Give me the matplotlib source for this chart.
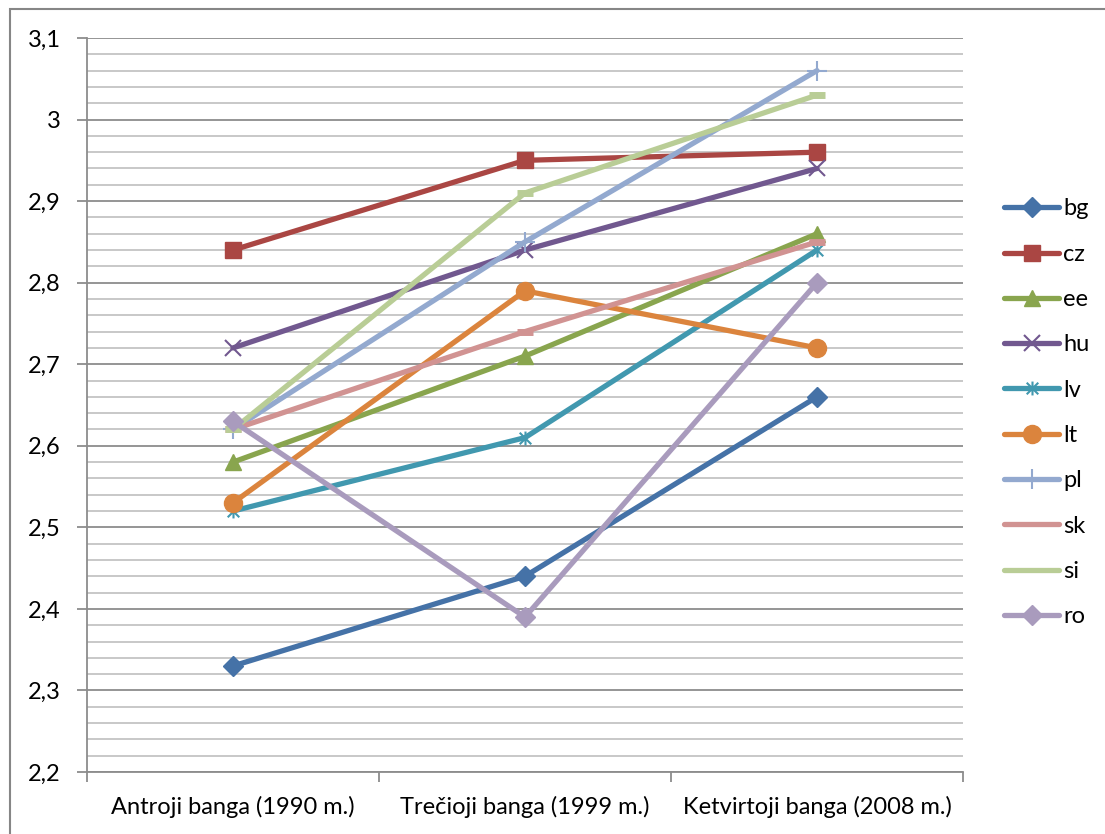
import numpy as np
import matplotlib
matplotlib.use('Agg')
from matplotlib import pyplot as plt
from matplotlib.path import Path
from matplotlib.patches import Rectangle
from matplotlib.ticker import MultipleLocator, FuncFormatter, FixedLocator

plt.rcParams['font.family'] = ['Lato', 'DejaVu Sans']

# Data
waves = ['Antroji banga (1990 m.)', 'Trečioji banga (1999 m.)', 'Ketvirtoji banga (2008 m.)']
countries = ['bg', 'cz', 'ee', 'hu', 'lv', 'lt', 'pl', 'sk', 'si', 'ro']
bg = [2.33, 2.44, 2.66]
cz = [2.84, 2.95, 2.96]
ee = [2.58, 2.71, 2.86]
hu = [2.72, 2.84, 2.94]
lv = [2.52, 2.61, 2.84]
lt = [2.53, 2.79, 2.72]
pl = [2.62, 2.85, 3.06]
sk = [2.62, 2.74, 2.85]
si = [2.62, 2.91, 3.03]
ro = [2.63, 2.39, 2.80]
series = [bg, cz, ee, hu, lv, lt, pl, sk, si, ro]

colors = ['#4572A7', '#AA4643', '#89A54E', '#71588F', '#4198AF',
          '#DB843D', '#93A9CF', '#D19392', '#B9CD96', '#A99BBD']

# Excel-like asterisk marker (x with a vertical bar)
star = Path([(-1, -1), (1, 1), (-1, 1), (1, -1), (0, -1.2), (0, 1.2)],
            [Path.MOVETO, Path.LINETO, Path.MOVETO, Path.LINETO, Path.MOVETO, Path.LINETO])

markers = ['D', 's', '^', 'x', star, 'o', '+', '_', '_', 'D']
msizes = [10, 12, 12, 12, 10, 13, 14, 12, 12, 10]
mews = [1, 1, 1, 1.5, 1.5, 1, 1.5, 5, 5, 1]

fig = plt.figure(figsize=(11.05, 8.34), dpi=100)
ax = fig.add_axes([87/1105, 1 - 772/834, (963-87)/1105, (772-38)/834])

x = np.arange(len(waves))
for name, vals, c, m, ms, mew in zip(countries, series, colors, markers, msizes, mews):
    ax.plot(x, vals, color=c, lw=3.8, marker=m, markersize=ms, markeredgewidth=mew,
            markerfacecolor=c, markeredgecolor=c, label=name, solid_capstyle='round',
            solid_joinstyle='round')

ax.set_xlim(-0.5, 2.5)
ax.set_ylim(2.2, 3.1)

# y axis: major every 0.1, minor grid every 0.02
ax.yaxis.set_major_locator(MultipleLocator(0.1))
ax.yaxis.set_minor_locator(MultipleLocator(0.02))
ax.yaxis.set_major_formatter(FuncFormatter(lambda v, p: f"{v:.1f}".rstrip('0').rstrip('.').replace('.', ',')))
ax.grid(axis='y', which='major', color='#8C8C8C', lw=1.3)
ax.grid(axis='y', which='minor', color='#C4C4C4', lw=1.3)
ax.set_axisbelow(True)
ax.tick_params(axis='y', which='major', length=7, width=1.3, color='#8C8C8C', labelsize=17, pad=12)
ax.tick_params(axis='y', which='minor', length=0)

# x axis: ticks at category boundaries, labels at centres
ax.xaxis.set_major_locator(FixedLocator([-0.5, 0.5, 1.5, 2.5]))
ax.xaxis.set_major_formatter(FuncFormatter(lambda v, p: ''))
ax.xaxis.set_minor_locator(FixedLocator(x))
ax.set_xticklabels(waves, minor=True)
ax.tick_params(axis='x', which='major', length=7, width=1.3, color='#8C8C8C')
ax.tick_params(axis='x', which='minor', length=0, labelsize=17, pad=17)

for s in ['top', 'right']:
    ax.spines[s].set_visible(False)
for s in ['left', 'bottom']:
    ax.spines[s].set_color('#8C8C8C')
    ax.spines[s].set_linewidth(1.3)

leg = ax.legend(loc='upper left', bbox_to_anchor=(995/1105, 1 - 189/834),
                bbox_transform=fig.transFigure, frameon=False, fontsize=17,
                handlelength=2.3, labelspacing=1.03, handletextpad=0.2, borderaxespad=0)
# sk and si show no marker in the legend
for h in leg.legend_handles[7:9]:
    h.set_marker('')

fig.patches.append(Rectangle((10/1105, -0.1), 1.2, 1 - 9/834 + 0.1, transform=fig.transFigure,
                             fill=False, edgecolor='#868686', lw=1.5))

fig.savefig('out.png', dpi=100)
